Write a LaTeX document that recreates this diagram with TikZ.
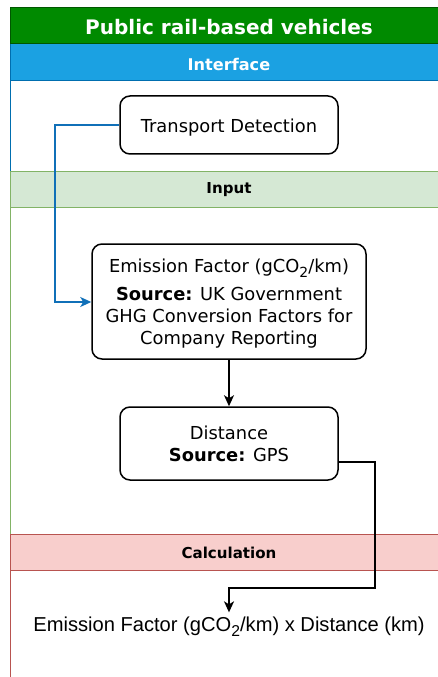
\documentclass[tikz,border=0pt]{standalone}
\usepackage{fontspec}
\setmainfont{DejaVu Sans}
\newfontfamily\formulafont{Liberation Sans}
\usetikzlibrary{arrows.meta}
\newlength\px
\setlength\px{0.75pt}
\newcommand\lowtwo{\raisebox{-0.5ex}{\fontsize{0.78em}{1em}\selectfont 2}}
\definecolor{titlegreen}{HTML}{008A00}
\definecolor{titlegreenline}{HTML}{005700}
\definecolor{ifblue}{HTML}{1BA1E2}
\definecolor{ifblueline}{HTML}{006EAF}
\definecolor{infill}{HTML}{D5E8D4}
\definecolor{inline}{HTML}{82B366}
\definecolor{calcfill}{HTML}{F8CECC}
\definecolor{calcline}{HTML}{B85450}
\definecolor{linkblue}{HTML}{1070B8}
\tikzset{
  box/.style={draw=black, line width=1.5\px, rounded corners=10\px, fill=white,
    align=center, inner sep=0pt, font=\fontsize{13.4pt}{16.5pt}\selectfont},
  flow/.style={line width=1.5\px, -{Stealth[length=8.25pt, width=7.5pt, inset=2.25pt]}},
  blueflow/.style={line width=1.5\px, draw=linkblue,
    -{Stealth[length=8.25pt, width=7.5pt, inset=2.25pt, fill=linkblue]}},
  bandtext/.style={font=\bfseries\fontsize{11.3pt}{13pt}\selectfont},
}
\begin{document}
\begin{tikzpicture}[x=0.75pt, y=-0.75pt]
\useasboundingbox (0,0) rectangle (438,677);
\clip (0,0) rectangle (438,677);

% pool title
\fill[titlegreen] (10,8) rectangle (445,44);
\draw[titlegreenline, line width=1\px] (10,8) -- (445,8) (10,8) -- (10,44) -- (445,44);
\node[text=white, font=\bfseries\fontsize{15pt}{17pt}\selectfont] (pooltitle) at (229,27) {Public rail-based vehicles};

% Interface lane
\fill[ifblue] (10,44) rectangle (445,81);
\draw[ifblueline, line width=1\px] (10,44) -- (10,172) (10,81) -- (445,81);
\node[text=white, font=\bfseries\fontsize{12.1pt}{14pt}\selectfont] (iftitle) at (229,64) {Interface};

% Input lane
\fill[infill] (10,172) rectangle (445,208);
\draw[inline, line width=1\px] (10,172) -- (445,172) (10,208) -- (445,208) (10,172) -- (10,534);
\node[bandtext] (intitle) at (229,190) {Input};

% Calculation lane
\fill[calcfill] (10,534) rectangle (445,570);
\draw[calcline, line width=1\px] (10,534) -- (445,534) (10,570) -- (445,570) (10,534) -- (10,680);
\node[bandtext] (calctitle) at (229,553) {Calculation};

% process boxes
\node[box, minimum width=218\px, minimum height=58\px, text height=12pt, text depth=0pt]
  (detect) at (229,125) {Transport Detection};
\node[box, minimum width=274\px, minimum height=115\px] (factor) at (229,301.5)
  {\rule{0pt}{13.5pt}Emission Factor (gCO\lowtwo/km)\\[5pt]
   \textbf{Source:} UK Government\\
   GHG Conversion Factors for\\
   Company Reporting};
\node[box, minimum width=218\px, minimum height=73\px] (dist) at (229,443.5)
  {Distance\\ \textbf{Source:} GPS};

% result
\node[font=\formulafont\fontsize{15.1pt}{17pt}\selectfont] (result) at (229,627)
  {Emission Factor (gCO\lowtwo/km) x Distance (km)};

% connectors
\draw[blueflow] (detect.west) -- (55,125) -- (55,302) -- (factor.west |- 0,302);
\draw[flow] (factor.south) -- (dist.north);
\draw[flow] (dist.east |- 0,462) -- (375,462) -- (375,588) -- (229,588) -- (result.north);
\end{tikzpicture}
\end{document}
